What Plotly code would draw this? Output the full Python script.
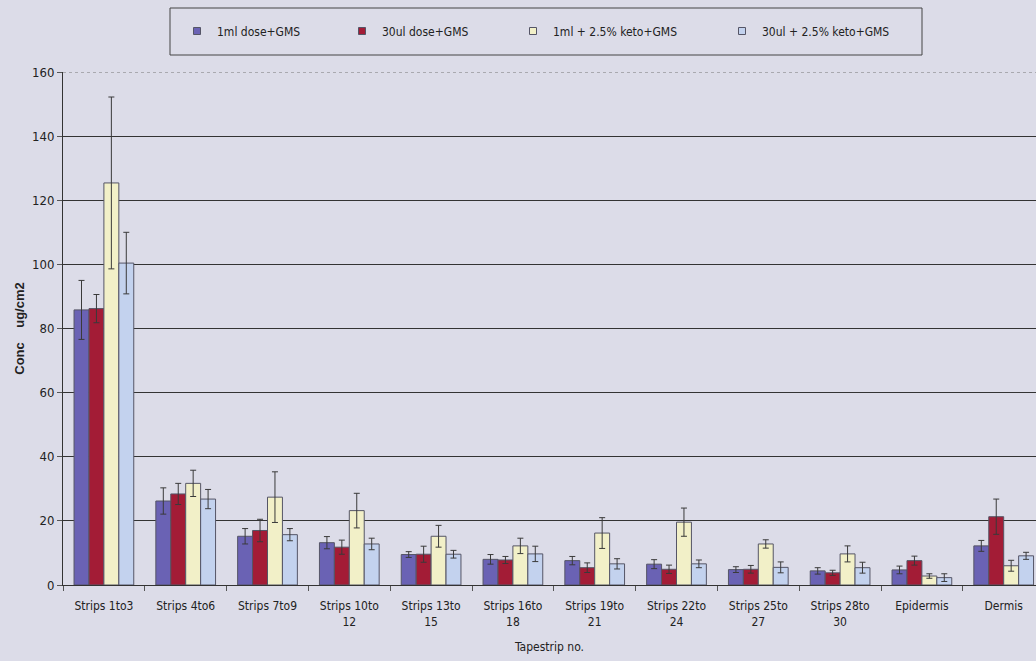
import plotly.graph_objects as go

categories = ["Strips 1to3", "Strips 4to6", "Strips 7to9", "Strips 10to<br>12", "Strips 13to<br>15",
              "Strips 16to<br>18", "Strips 19to<br>21", "Strips 22to<br>24", "Strips 25to<br>27",
              "Strips 28to<br>30", "Epidermis", "Dermis"]

series_names = ["1ml dose+GMS", "30ul dose+GMS", "1ml + 2.5% keto+GMS", "30ul + 2.5% keto+GMS"]

s1_values = [85.8, 26.2, 15.2, 13.2, 9.5, 8.0, 7.6, 6.5, 4.8, 4.4, 4.7, 12.2]
s1_errors = [9.2, 4.1, 2.4, 1.9, 0.9, 1.5, 1.3, 1.4, 0.9, 1.0, 1.2, 1.7]
s2_values = [86.2, 28.4, 17.0, 11.8, 9.6, 7.8, 5.4, 4.9, 4.9, 3.8, 7.6, 21.3]
s2_errors = [4.4, 3.3, 3.5, 2.2, 2.5, 1.1, 1.5, 1.3, 1.2, 0.8, 1.4, 5.5]
s3_values = [125.4, 31.7, 27.4, 23.2, 15.2, 12.2, 16.2, 19.6, 12.8, 9.7, 2.8, 6.0]
s3_errors = [26.8, 4.1, 7.9, 5.4, 3.4, 2.4, 4.8, 4.4, 1.3, 2.5, 0.7, 1.7]
s4_values = [100.4, 26.8, 15.7, 12.8, 9.6, 9.7, 6.6, 6.6, 5.5, 5.4, 2.3, 9.1]
s4_errors = [9.6, 3.0, 1.9, 1.8, 1.2, 2.4, 1.6, 1.2, 1.7, 1.7, 1.2, 1.1]

colors = ["#6a62b4", "#a31c36", "#f2f0c8", "#c3d2ee"]

values = [s1_values, s2_values, s3_values, s4_values]
errors = [s1_errors, s2_errors, s3_errors, s4_errors]

bg = "#dcdce8"
narrow = "Liberation Sans Narrow, Arial Narrow, DejaVu Sans Condensed, sans-serif"
W, H = 1036, 661
L, R, T, B = 63, 0, 72, 76
pw, ph = W - L - R, H - T - B

# legend marker pixel positions (x) in the reference
legend_px = [197, 362, 533, 742]
legend_names = ["legend", "legend2", "legend3", "legend4"]

fig = go.Figure()
for name, v, e, c in zip(series_names, values, errors, colors):
    fig.add_trace(go.Bar(
        x=categories, y=v, name=name, showlegend=False,
        marker=dict(color=c, line=dict(color="#555566", width=1)),
        error_y=dict(type="data", array=e, visible=True, color="#3a3a3a", thickness=1, width=3),
    ))
# legend-only entries with small square swatches
for name, c, lg in zip(series_names, colors, legend_names):
    fig.add_trace(go.Scatter(
        x=[None], y=[None], mode="markers", name=name, legend=lg, showlegend=True,
        marker=dict(symbol="square", size=7, color=c, line=dict(color="#555566", width=1)),
    ))

lfont = dict(family=narrow, size=12, color="#222222")
layout_legends = {}
for lg, px in zip(legend_names, legend_px):
    layout_legends[lg] = dict(
        x=(px - 20 - L) / pw, xanchor="left", y=(H - B - 31) / ph, yanchor="middle",
        bgcolor="rgba(0,0,0,0)", borderwidth=0, font=lfont, orientation="h",
        itemwidth=30,
    )

fig.update_layout(
    width=W, height=H,
    paper_bgcolor=bg, plot_bgcolor=bg,
    margin=dict(l=L, r=R, t=T, b=B),
    barmode="group", bargap=0.27, bargroupgap=0,
    font=dict(family=narrow, size=12, color="#222222"),
    **layout_legends,
)

# legend frame
fig.add_shape(type="rect", xref="paper", yref="paper",
              x0=(170 - L) / pw, x1=(922 - L) / pw,
              y0=(H - B - 55) / ph, y1=(H - B - 8) / ph,
              line=dict(color="#444444", width=1), fillcolor="rgba(0,0,0,0)", layer="above")
# dotted top line at 160 instead of solid
fig.add_shape(type="line", xref="paper", yref="y", x0=0, x1=1, y0=160, y1=160,
              line=dict(color=bg, width=2), layer="above")
fig.add_shape(type="line", xref="paper", yref="y", x0=0, x1=1, y0=160, y1=160,
              line=dict(color="#777777", width=1, dash="dot"), layer="above")

fig.update_xaxes(
    range=[-0.5, -0.5 + pw / 81.8], showgrid=False, showline=True, linecolor="#333333", linewidth=1,
    ticks="outside", tickson="boundaries", ticklen=5, tickcolor="#555555",
    ticklabelstandoff=10,
    tickfont=dict(family=narrow, size=12, color="#222222"),
    title=dict(text="Tapestrip no.", font=dict(family=narrow, size=12, color="#222222"), standoff=14),
)
fig.update_yaxes(
    range=[0, 160], dtick=20, showgrid=True, gridcolor="#333333", gridwidth=1,
    showline=True, linecolor="#333333", linewidth=1, zeroline=False,
    ticks="outside", ticklen=5, tickcolor="#555555",
    tickfont=dict(family=narrow, size=13, color="#222222"),
    title=dict(text="Conc    ug/cm2", font=dict(family="Liberation Sans, Arial, sans-serif", size=13, color="#222222", weight="bold"), standoff=4),
)

fig.write_html("out.html", config={"displayModeBar": False},
               post_script="document.body.style.margin='0';document.body.style.overflow='hidden';")
